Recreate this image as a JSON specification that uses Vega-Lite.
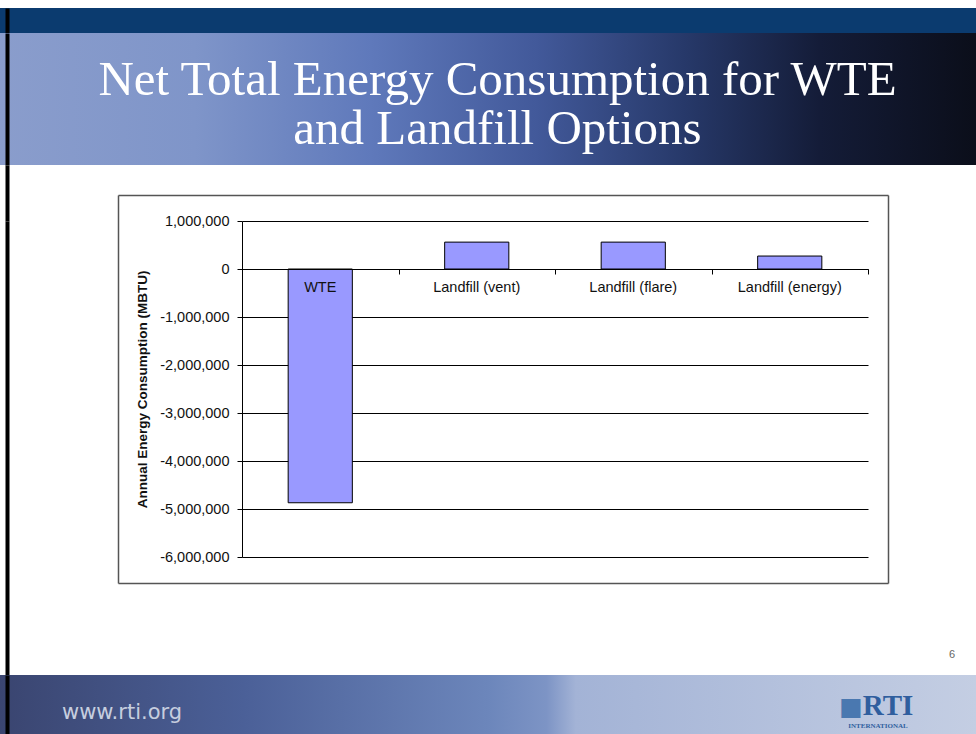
{
  "$schema": "https://vega.github.io/schema/vega-lite/v6.json",
  "padding": {"top": 8, "left": 0, "right": 0, "bottom": 0},
  "spacing": 0,
  "bounds": "full",
  "background": "white",
  "config": {"view": {"stroke": null}, "font": "Liberation Sans"},
  "vconcat": [
    {
      "width": 976,
      "height": 25,
      "view": {"fill": "#0b3b6f", "stroke": null},
      "data": {"values": [{"k": 1}]},
      "layer": [
        {"mark": {"type": "rect", "fill": "#0b3b6f"}, "encoding": {}},
        {
          "mark": {"type": "bar", "opacity": 0},
          "encoding": {
            "y": {"field": "k", "type": "quantitative", "scale": {"domain": [0, 1], "nice": false},
              "axis": {"orient": "left", "offset": -7, "labels": false, "ticks": false, "grid": false, "title": null, "domain": true, "domainColor": "#000000", "domainWidth": 4, "zindex": 1}}
          }
        }
      ]
    },
    {
      "width": 976,
      "height": 132,
      "view": {"fill": "#34497f", "stroke": null},
      "data": {"values": [{"k": 1, "heading": "Net Total Energy Consumption for WTE\nand Landfill Options"}]},
      "layer": [
        {
          "mark": {
            "type": "rect",
            "fill": {
              "gradient": "linear", "x1": 0, "y1": 0, "x2": 1, "y2": 0,
              "stops": [
                {"offset": 0, "color": "#8a9dcc"},
                {"offset": 0.2, "color": "#7f95c9"},
                {"offset": 0.38, "color": "#5f79bb"},
                {"offset": 0.55, "color": "#42599a"},
                {"offset": 0.7, "color": "#27396a"},
                {"offset": 0.84, "color": "#141c38"},
                {"offset": 1, "color": "#0b0e1a"}
              ]
            }
          },
          "encoding": {}
        },
        {
          "mark": {
            "type": "text",
            "font": "Liberation Serif",
            "fontSize": 49,
            "color": "#ffffff",
            "lineBreak": "\n",
            "lineHeight": 49,
            "baseline": "alphabetic",
            "align": "center",
            "dx": 9.5,
            "dy": -4.5
          },
          "encoding": {"text": {"field": "heading"}}
        },
        {
          "mark": {"type": "bar", "opacity": 0},
          "encoding": {
            "y": {"field": "k", "type": "quantitative", "scale": {"domain": [0, 1], "nice": false},
              "axis": {"orient": "left", "offset": -7, "labels": false, "ticks": false, "grid": false, "title": null, "domain": true, "domainColor": "#000000", "domainWidth": 4, "zindex": 1}}
          }
        }
      ]
    },
    {
      "width": 976,
      "height": 336,
      "data": {
        "values": [
          {"option": "WTE", "energy": -4870000},
          {"option": "Landfill (vent)", "energy": 560000},
          {"option": "Landfill (flare)", "energy": 560000},
          {"option": "Landfill (energy)", "energy": 270000}
        ]
      },
      "layer": [
        {
          "mark": {"type": "bar", "fill": "#9999ff", "stroke": "#000000", "strokeWidth": 1},
          "encoding": {
            "x": {
              "field": "option",
              "type": "nominal",
              "sort": null,
              "scale": {"range": [242, 868], "paddingInner": 0.59, "paddingOuter": 0.295},
              "axis": {
                "orient": "bottom",
                "offset": -288,
                "title": null,
                "labelAngle": 0,
                "grid": false,
                "zindex": 1,
                "domainColor": "#000000",
                "ticks": true,
                "tickOpacity": 0,
                "tickSize": 5,
                "labelPadding": 6,
                "labelFontSize": 14.5,
                "labelColor": "#111111",
                "labelFont": "Liberation Sans"
              }
            },
            "y": {
              "field": "energy",
              "type": "quantitative",
              "scale": {"domain": [-6000000, 1000000], "nice": false, "zero": false},
              "axis": {
                "orient": "left",
                "offset": -242,
                "values": [-6000000, -5000000, -4000000, -3000000, -2000000, -1000000, 0, 1000000],
                "labelExpr": "replace(format(datum.value, ','), '−', '-')",
                "title": "Annual Energy Consumption (MBTU)",
                "titleFont": "Liberation Sans",
                "titleFontSize": 13.5,
                "titleFontWeight": "bold",
                "titleColor": "#111111",
                "titlePadding": 10,
                "grid": true,
                "gridColor": "#000000",
                "gridOpacity": 1,
                "gridWidth": 1,
                "domainColor": "#000000",
                "tickColor": "#000000",
                "tickSize": 5,
                "labelPadding": 8,
                "labelFontSize": 14.5,
                "labelColor": "#111111",
                "labelFont": "Liberation Sans",
                "zindex": 0
              }
            }
          }
        },
        {
          "mark": {"type": "bar", "opacity": 0},
          "encoding": {
            "x": {
              "field": "option",
              "type": "nominal",
              "sort": null,
              "scale": {"range": [242, 868], "paddingInner": 0, "paddingOuter": 0},
              "axis": {"orient": "bottom", "offset": -288, "labels": false, "domain": false, "grid": false, "title": null, "ticks": true, "tickBand": "extent", "tickSize": 5, "tickColor": "#000000", "zindex": 1}
            },
            "y": {"field": "energy", "type": "quantitative", "axis": null}
          }
        },
        {
          "mark": {"type": "bar", "opacity": 0},
          "encoding": {
            "x": {
              "field": "option",
              "type": "nominal",
              "sort": null,
              "scale": {"range": [118, 888]},
              "axis": {"orient": "top", "offset": 26, "labels": false, "ticks": false, "grid": false, "title": null, "domain": true, "domainColor": "#555555", "domainWidth": 1.5}
            },
            "y": {
              "field": "energy",
              "type": "quantitative",
              "scale": {"range": [362, -26]},
              "axis": {"orient": "left", "offset": -118, "labels": false, "ticks": false, "grid": false, "title": null, "domain": true, "domainColor": "#555555", "domainWidth": 1.5}
            }
          }
        },
        {
          "mark": {"type": "bar", "opacity": 0},
          "encoding": {
            "x": {
              "field": "option",
              "type": "nominal",
              "sort": null,
              "scale": {"range": [118, 888]},
              "axis": {"orient": "bottom", "offset": 26, "labels": false, "ticks": false, "grid": false, "title": null, "domain": true, "domainColor": "#555555", "domainWidth": 1.5}
            },
            "y": {
              "field": "energy",
              "type": "quantitative",
              "scale": {"range": [362, -26]},
              "axis": {"orient": "right", "offset": -88, "labels": false, "ticks": false, "grid": false, "title": null, "domain": true, "domainColor": "#555555", "domainWidth": 1.5}
            }
          }
        },
        {
          "mark": {"type": "bar", "opacity": 0},
          "encoding": {
            "x": {
              "field": "option",
              "type": "nominal",
              "sort": null,
              "axis": {"orient": "top", "offset": 56, "labels": false, "ticks": false, "grid": false, "title": null, "domain": true, "domainOpacity": 0}
            },
            "y": {
              "field": "energy",
              "type": "quantitative",
              "scale": {"range": [454, 0]},
              "axis": {"orient": "left", "offset": -7, "labels": false, "ticks": false, "grid": false, "title": null, "domain": true, "domainColor": "#000000", "domainWidth": 4, "zindex": 1}
            }
          }
        },
        {
          "mark": {"type": "bar", "opacity": 0},
          "encoding": {
            "x": {
              "field": "option",
              "type": "nominal",
              "sort": null,
              "axis": {"orient": "bottom", "offset": 118, "labels": false, "ticks": false, "grid": false, "title": null, "domain": true, "domainOpacity": 0}
            },
            "y": {
              "field": "energy",
              "type": "quantitative",
              "scale": {"range": [0, -56]},
              "axis": {"orient": "left", "offset": -7, "labels": false, "ticks": false, "grid": false, "title": null, "domain": true, "domainColor": "#000000", "domainWidth": 4, "zindex": 1}
            }
          }
        },
        {
          "data": {"values": [{"page": "6"}]},
          "mark": {"type": "text", "align": "center", "baseline": "middle", "dx": 464, "dy": 266, "fontSize": 11, "font": "Liberation Sans", "color": "#666666"},
          "encoding": {"text": {"field": "page"}}
        }
      ],
      "resolve": {
        "scale": {"x": "independent", "y": "independent"},
        "axis": {"x": "independent", "y": "independent"}
      }
    },
    {
      "width": 976,
      "height": 59,
      "view": {"fill": "#6f85b6", "stroke": null},
      "data": {"values": [{"k": 1, "site": "www.rti.org", "icon": "■", "logo": "RTI", "sub": "INTERNATIONAL"}]},
      "layer": [
        {
          "mark": {
            "type": "rect",
            "fill": {
              "gradient": "linear", "x1": 0, "y1": 0, "x2": 1, "y2": 0,
              "stops": [
                {"offset": 0, "color": "#3a4570"},
                {"offset": 0.25, "color": "#4b6098"},
                {"offset": 0.5, "color": "#6c86bb"},
                {"offset": 0.56, "color": "#7d94c5"},
                {"offset": 0.59, "color": "#a3b3d6"},
                {"offset": 1, "color": "#c4cee3"}
              ]
            }
          },
          "encoding": {}
        },
        {
          "mark": {"type": "text", "align": "left", "baseline": "middle", "dx": -426, "dy": 8, "fontSize": 21, "font": "DejaVu Sans", "color": "#c6cedf"},
          "encoding": {"text": {"field": "site"}}
        },
        {
          "mark": {"type": "text", "align": "center", "baseline": "middle", "dx": 363, "dy": 2, "fontSize": 25, "font": "DejaVu Sans", "color": "#4a78b0"},
          "encoding": {"text": {"field": "icon"}}
        },
        {
          "mark": {"type": "text", "align": "center", "baseline": "middle", "dx": 400, "dy": 1, "fontSize": 29, "font": "Liberation Serif", "fontWeight": "bold", "color": "#2f5e9e"},
          "encoding": {"text": {"field": "logo"}}
        },
        {
          "mark": {"type": "text", "align": "center", "baseline": "middle", "dx": 390, "dy": 21.5, "fontSize": 7, "font": "Liberation Serif", "fontWeight": "bold", "color": "#2f5e9e"},
          "encoding": {"text": {"field": "sub"}}
        },
        {
          "mark": {"type": "bar", "opacity": 0},
          "encoding": {
            "y": {"field": "k", "type": "quantitative", "scale": {"domain": [0, 1], "nice": false},
              "axis": {"orient": "left", "offset": -7, "labels": false, "ticks": false, "grid": false, "title": null, "domain": true, "domainColor": "#000000", "domainWidth": 4, "zindex": 1}}
          }
        }
      ]
    }
  ]
}
